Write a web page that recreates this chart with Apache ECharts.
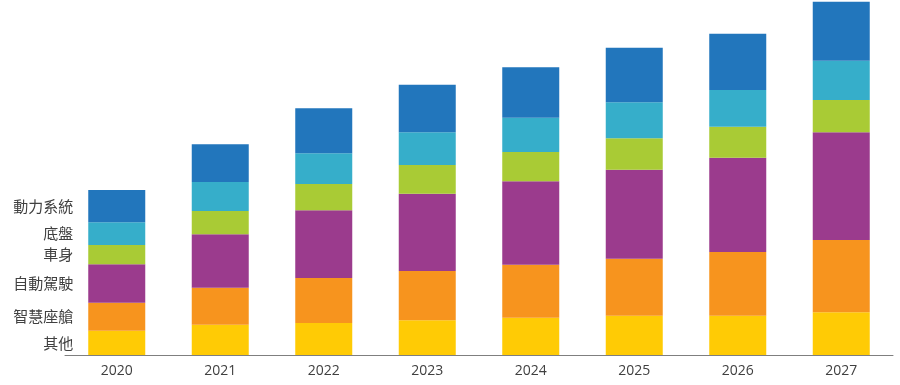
<!DOCTYPE html>
<html>
<head>
<meta charset="utf-8">
<script src="https://cdn.jsdelivr.net/npm/echarts@6/dist/echarts.min.js"></script>
<style>html,body{margin:0;padding:0;background:#fff;}#c{width:900px;height:385px;}</style>
</head>
<body>
<div id="c"></div>
<script>
const categories = ['2020','2021','2022','2023','2024','2025','2026','2027'];
const seriesNames = ['其他','智慧座艙','自動駕駛','車身','底盤','動力系統'];
const other      = [24.3, 30.3, 32.0, 34.7, 37.3, 39.3, 39.3, 42.7];
const cockpit    = [28.0, 37.0, 45.0, 49.3, 53.0, 57.0, 63.7, 72.3];
const autonomous = [38.4, 53.4, 67.7, 77.3, 83.4, 89.0, 94.3, 107.7];
const body       = [19.3, 23.3, 26.4, 28.7, 29.3, 31.4, 31.0, 32.3];
const chassis    = [22.7, 29.0, 30.7, 32.7, 34.3, 36.0, 36.7, 39.3];
const powertrain = [32.3, 37.7, 45.0, 47.6, 50.4, 54.6, 56.3, 59.0];
const values = [other, cockpit, autonomous, body, chassis, powertrain];
const colors = ['#FFCB05','#F7941E','#9B3B8D','#A9CB35','#36AECA','#2276BC'];

const chart = echarts.init(document.getElementById('c'));
chart.setOption({
  animation: false,
  grid: {left: 65, right: 7, top: 0, bottom: 30},
  xAxis: {
    type: 'category',
    data: categories,
    axisLine: {lineStyle: {color: '#7f7f7f', width: 1}},
    axisTick: {show: false},
    axisLabel: {color: '#404040', fontSize: 14, fontFamily: 'Open Sans', margin: 9}
  },
  yAxis: {type: 'value', min: 0, max: 355, show: false, splitLine: {show: false}},
  series: values.map((vals, s) => ({
    name: seriesNames[s],
    type: 'bar',
    stack: 'total',
    barWidth: 57,
    itemStyle: {color: colors[s]},
    label: {
      show: false,
      position: 'left',
      distance: 15,
      formatter: seriesNames[s],
      color: '#404040',
      fontSize: 15,
      fontFamily: 'Noto Sans CJK TC'
    },
    data: vals.map((v, i) => i === 0 ? {value: v, label: {show: true}} : v)
  }))
});
</script>
</body>
</html>
